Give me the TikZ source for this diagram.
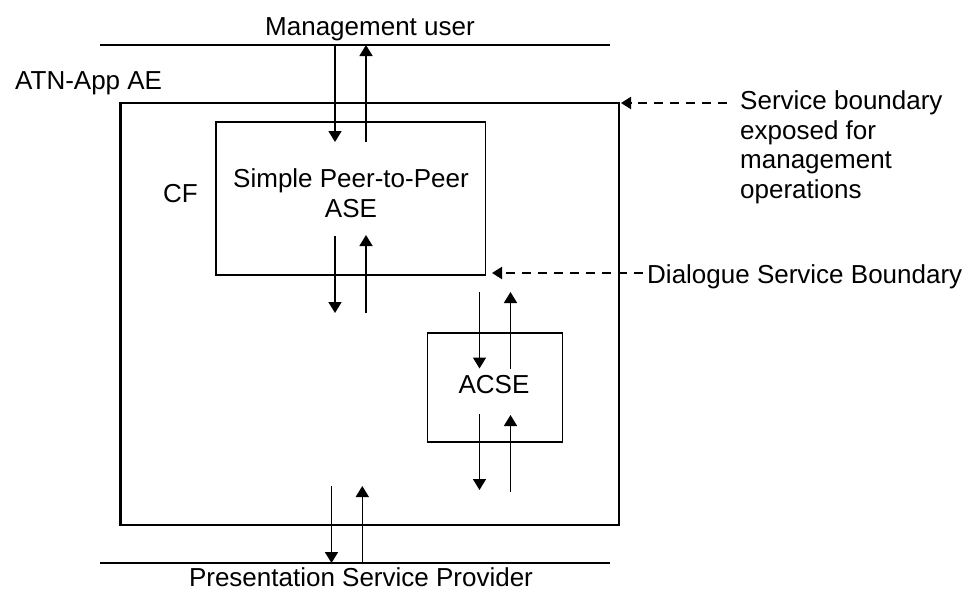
\documentclass[tikz,border=0pt]{standalone}
\usepackage{fontspec}
\setmainfont{Liberation Sans}
\usetikzlibrary{arrows.meta}
\begin{document}
\begin{tikzpicture}[x=1pt,y=-1pt,
  txt/.style={inner sep=0pt,font=\fontsize{26}{29.5}\selectfont},
  boxA/.style={draw,line width=2.2pt,inner sep=0pt},
  boxB/.style={draw,line width=1.8pt,inner sep=0pt},
  rail/.style={line width=2.6pt},
  flow/.style={line width=1.6pt,-{Triangle[width=13pt,length=11pt]}},
  hint/.style={line width=2pt,dash pattern=on 9pt off 7pt,-{Triangle[width=12pt,length=10pt]}}]
\useasboundingbox (0,0) rectangle (972,592);
\fill[white] (0,0) rectangle (972,592);
% texts
\node[txt,anchor=base] (mu) at (370,35) {Management user};
\node[txt,anchor=base west] (atn) at (15,89) {ATN-App AE};
\node[txt,anchor=base west] (cf) at (163,202) {CF};
\node[txt,anchor=base] (psp) at (361,586) {Presentation Service Provider};
% rails
\coordinate (tl) at (100,45); \coordinate (tr) at (610,45);
\coordinate (bl) at (100,563); \coordinate (br) at (610,563);
\draw[rail] (tl) -- (tr);
\draw[rail] (bl) -- (br);
% boxes
\node[boxA,minimum width=498.5pt,minimum height=422pt] (ae) at (369.75,314) {};
\node[boxB,minimum width=269.5pt,minimum height=153pt] (ase) at (350.75,198.5) {};
\node[txt,align=center,anchor=base] (asetxt) at (351,217) {Simple Peer-to-Peer\\ASE};
\node[boxB,minimum width=135pt,minimum height=109pt] (acse) at (495,387.8) {};
\node[txt,anchor=base] (acsetxt) at (494,393) {ACSE};
% right texts
\node[txt,anchor=base west,align=left] (sb) at (740,198) {Service boundary\\exposed for\\management\\operations};
\node[txt,anchor=base west] (dsb) at (647,283) {Dialogue Service Boundary};
% arrows top pair
\coordinate (a1s) at (335,45); \coordinate (a1e) at (335,142);
\coordinate (a2s) at (366,142); \coordinate (a2e) at (366,45);
\draw[flow] (a1s) -- (a1e);
\draw[flow] (a2s) -- (a2e);
% below ASE
\coordinate (b1s) at (335,236); \coordinate (b1e) at (335,313);
\coordinate (b2s) at (366,313); \coordinate (b2e) at (366,235);
\draw[flow] (b1s) -- (b1e);
\draw[flow] (b2s) -- (b2e);
% above ACSE
\coordinate (c1s) at (479.5,292); \coordinate (c1e) at (479.5,368.5);
\coordinate (c2s) at (510.5,368.5); \coordinate (c2e) at (510.5,292);
\draw[flow] (c1s) -- (c1e);
\draw[flow] (c2s) -- (c2e);
% below ACSE
\coordinate (d1s) at (479.5,414); \coordinate (d1e) at (479.5,490);
\coordinate (d2s) at (510.5,492); \coordinate (d2e) at (510.5,415);
\draw[flow] (d1s) -- (d1e);
\draw[flow] (d2s) -- (d2e);
% bottom pair
\coordinate (e1s) at (331.5,486); \coordinate (e1e) at (331.5,563);
\coordinate (e2s) at (362.3,563); \coordinate (e2e) at (362.3,486);
\draw[flow] (e1s) -- (e1e);
\draw[flow] (e2s) -- (e2e);
% dashed pointers
\coordinate (p1s) at (727,103); \coordinate (p1e) at (621,103);
\coordinate (p2s) at (643,273); \coordinate (p2e) at (492,273);
\draw[hint] (p1s) -- (p1e);
\draw[hint] (p2s) -- (p2e);
\end{tikzpicture}
\end{document}
